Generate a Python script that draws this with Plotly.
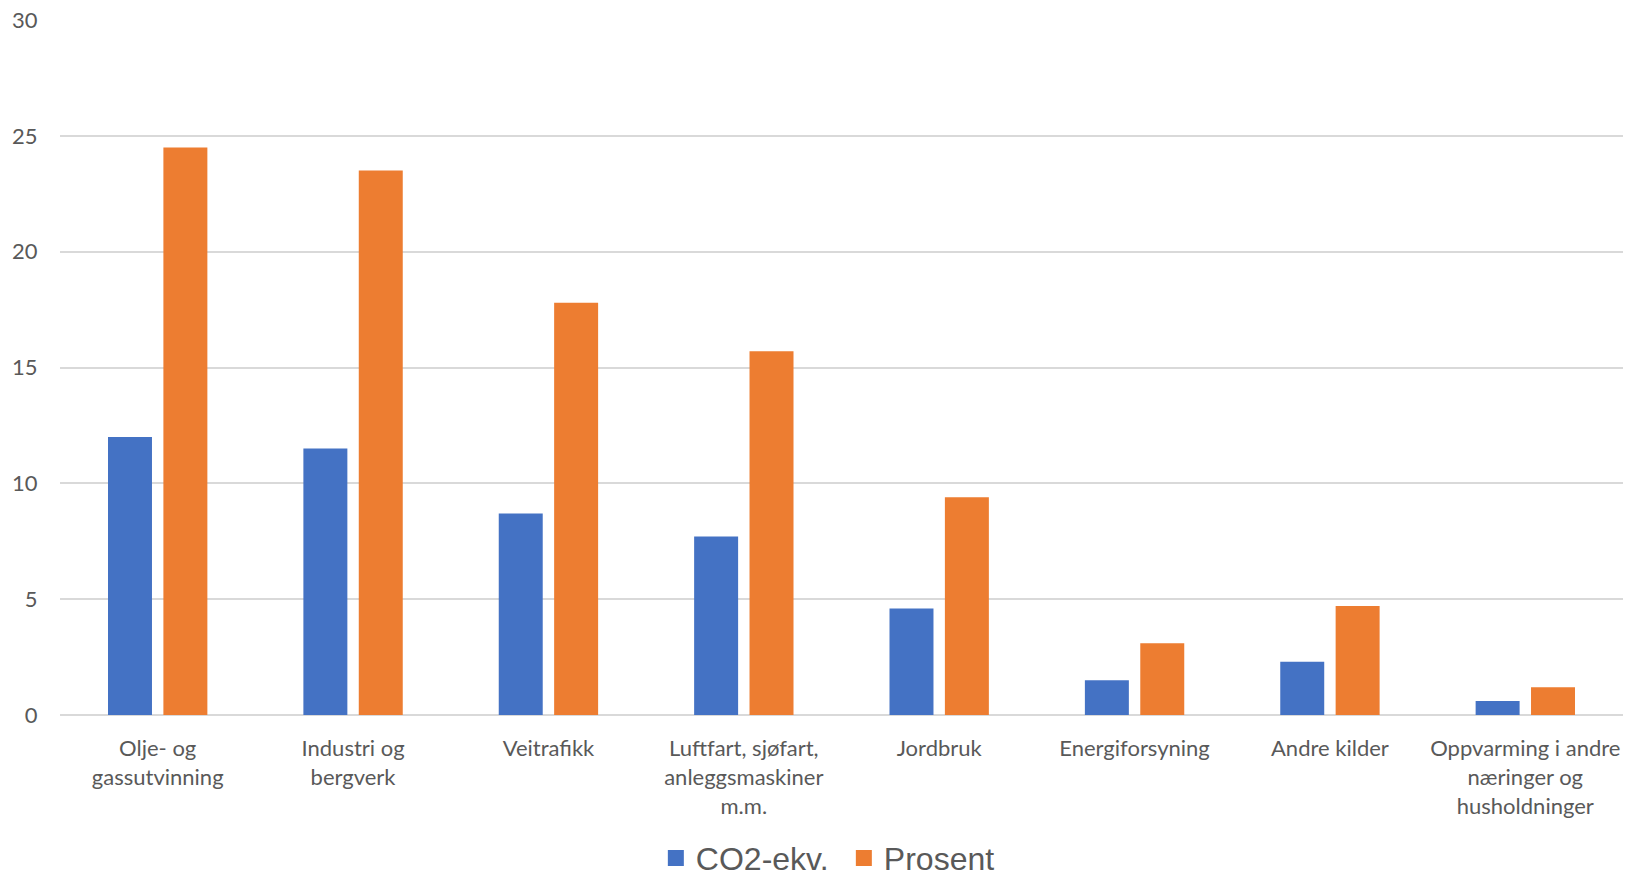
import plotly.graph_objects as go

categories = [
    "Olje- og<br>gassutvinning",
    "Industri og<br>bergverk",
    "Veitrafikk",
    "Luftfart, sjøfart,<br>anleggsmaskiner<br>m.m.",
    "Jordbruk",
    "Energiforsyning",
    "Andre kilder",
    "Oppvarming i andre<br>næringer og<br>husholdninger",
]
co2_ekv = [12.0, 11.5, 8.7, 7.7, 4.6, 1.5, 2.3, 0.6]
prosent = [24.5, 23.5, 17.8, 15.7, 9.4, 3.1, 4.7, 1.2]
series_names = ["CO2-ekv.", "Prosent"]
y_ticks = [0, 5, 10, 15, 20, 25, 30]

BLUE = "#4472C4"
ORANGE = "#ED7D31"
TEXT = "#595959"
GRID = "#D9D9D9"

fig = go.Figure()
for name, vals, col in zip(series_names, [co2_ekv, prosent], [BLUE, ORANGE]):
    fig.add_trace(go.Bar(name=name, x=categories, y=vals, showlegend=False,
                         legendgroup=name,
                         marker=dict(color=col, line=dict(width=0))))
# legend entries with larger square symbols
for name, col in zip(series_names, [BLUE, ORANGE]):
    fig.add_trace(go.Scatter(name=name, x=[None], y=[None], mode="markers",
                             legendgroup=name, showlegend=True,
                             marker=dict(symbol="square", size=16, color=col)))

fig.update_layout(
    width=1636, height=875, autosize=False,
    margin=dict(l=60, r=13, t=20, b=160, pad=0, autoexpand=False),
    paper_bgcolor="white", plot_bgcolor="white",
    barmode="group", bargap=0.433, bargroupgap=0.206,
    font=dict(family="Lato", size=22, color=TEXT),
    showlegend=True,
    legend=dict(orientation="h", x=0.5015, xanchor="center", y=-0.206, yanchor="middle",
                font=dict(family="Liberation Sans", size=32, color=TEXT),
                bgcolor="rgba(0,0,0,0)", itemwidth=30,
                entrywidth=143, entrywidthmode="pixels"),
)
fig.update_xaxes(
    showgrid=False, showline=False, zeroline=False, automargin=False,
    ticks="outside", ticklen=14, tickcolor="rgba(0,0,0,0)",
    tickfont=dict(family="Lato", size=22, color=TEXT),
    tickangle=0,
)
fig.update_yaxes(
    range=[0, 30], tickvals=y_ticks, showgrid=True, gridcolor=GRID, gridwidth=1.5,
    zeroline=True, zerolinecolor=GRID, zerolinewidth=1.5, showline=False,
    automargin=False,
    ticks="outside", ticklen=17, tickcolor="rgba(0,0,0,0)",
    tickfont=dict(family="Lato", size=22, color=TEXT),
)

fig.write_html("out.html")
